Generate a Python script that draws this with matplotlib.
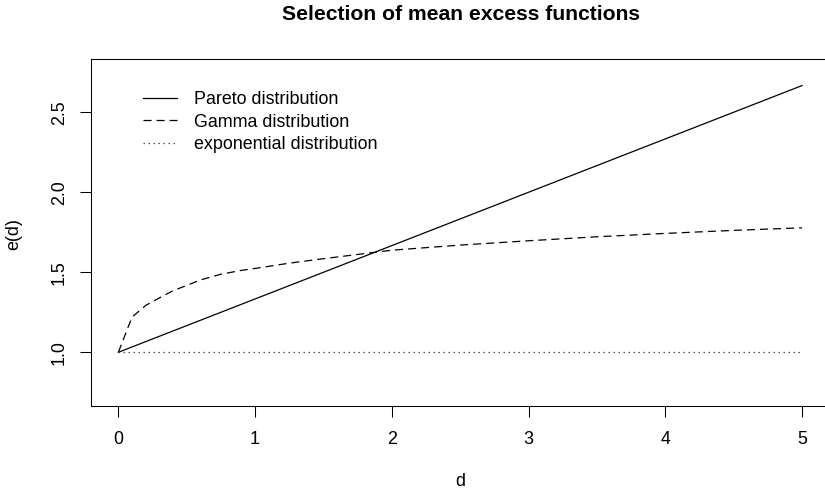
import matplotlib

matplotlib.use("Agg")
import matplotlib.pyplot as plt

# Mean excess functions e(d)
d_pareto = [0.0, 5.0]
e_pareto = [1.0, 2.667]

d_gamma = [0.0, 0.1, 0.2, 0.3, 0.4, 0.5, 0.6, 0.75, 0.9, 1.0, 1.25, 1.5, 2.0,
           2.5, 3.0, 3.5, 4.0, 4.5, 5.0]
e_gamma = [1.0, 1.220, 1.293, 1.340, 1.385, 1.418, 1.452, 1.488, 1.512, 1.524,
           1.557, 1.585, 1.638, 1.670, 1.697, 1.722, 1.743, 1.762, 1.778]

d_expo = [0.0, 5.0]
e_expo = [1.0, 1.0]

labels = ["Pareto distribution", "Gamma distribution", "exponential distribution"]
xticks = [0, 1, 2, 3, 4, 5]
yticks = [1.0, 1.5, 2.0, 2.5]

W, H, DPI = 825, 492, 100
BASE = 12.9  # pt

plt.rcParams["font.family"] = ["Liberation Sans", "DejaVu Sans"]
plt.rcParams["lines.scale_dashes"] = False

fig = plt.figure(figsize=(W / DPI, H / DPI), dpi=DPI)
fig.patch.set_facecolor("white")

# plot box in pixels: left 91, right beyond the image edge, top 59, bottom 405.5
left, right, top, bottom = 91, 829.4, 59, 405.5
ax = fig.add_axes([left / W, 1 - bottom / H, (right - left) / W, (bottom - top) / H])

lw = 0.9
ax.plot(d_pareto, e_pareto, color="black", lw=lw, linestyle="-", label=labels[0])
ax.plot(d_gamma, e_gamma, color="black", lw=lw, linestyle=(0, (5.8, 3.6)), label=labels[1])
ax.plot(d_expo, e_expo, color="#444444", lw=lw, linestyle=(0, (1.0, 2.6)), label=labels[2])

ax.set_xlim(-0.2, 5.2)
ax.set_ylim(0.6675, 2.833)
ax.set_xticks(xticks)
ax.set_xticklabels([str(t) for t in xticks])
ax.set_yticks(yticks)
ax.set_yticklabels([f"{t:.1f}" for t in yticks], rotation=90, va="center")
ax.tick_params(axis="both", direction="out", length=7.6, width=0.75,
               labelsize=BASE, colors="black")
ax.tick_params(axis="x", pad=11)
ax.tick_params(axis="y", pad=9)
for s in ax.spines.values():
    s.set_linewidth(0.75)
    s.set_color("black")
ax.spines["right"].set_visible(False)

fig.text(460 / W, 1 - 482 / H, "d", ha="center", va="center", fontsize=BASE)
fig.text(14 / W, 1 - 234 / H, "e(d)", ha="center", va="center", rotation=90,
         fontsize=BASE)
fig.text(461 / W, 1 - 15 / H, "Selection of mean excess functions",
         ha="center", va="center", fontsize=15.2, fontweight="bold")

leg = ax.legend(loc="upper left",
                bbox_to_anchor=((143 - left) / (right - left), 1 - (91 - top) / (bottom - top)),
                frameon=False, fontsize=BASE, handlelength=1.9,
                handletextpad=0.95, labelspacing=0.31, borderpad=0,
                borderaxespad=0)

fig.savefig("out.png", dpi=DPI, facecolor="white")
